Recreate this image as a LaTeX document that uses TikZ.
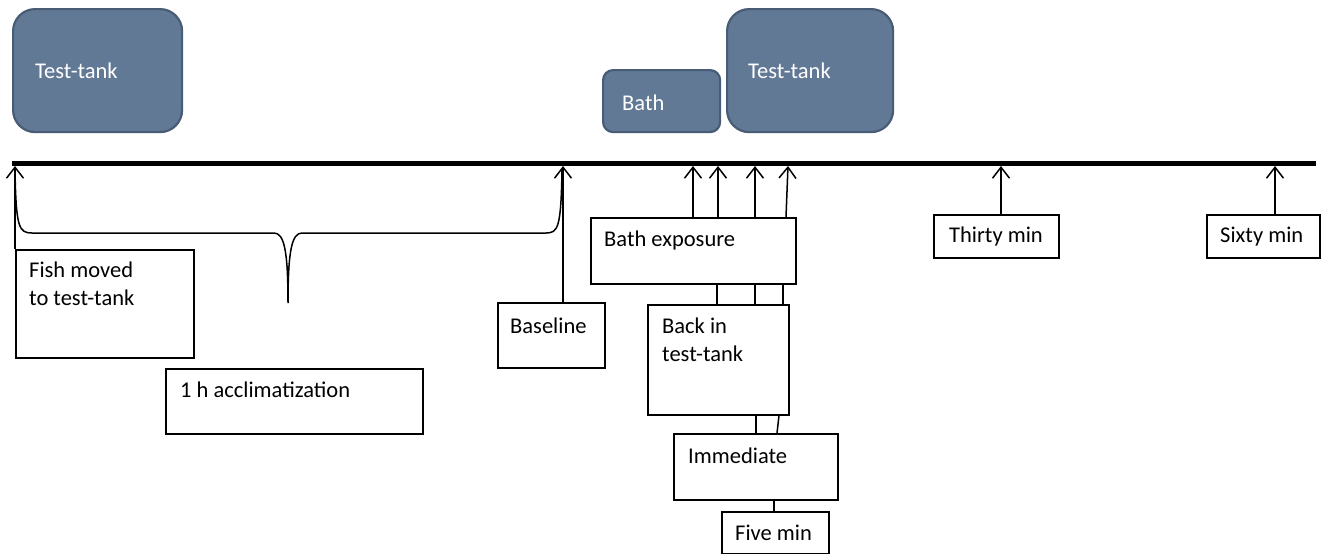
\documentclass[tikz,border=0pt]{standalone}
\usepackage{fontspec}
\setmainfont{Carlito}
\usetikzlibrary{arrows.meta}
\definecolor{tankfill}{RGB}{98,121,150}
\definecolor{tankdraw}{RGB}{72,92,118}
\tikzset{
  box/.style={draw=black, line width=1.5pt, fill=white, rectangle, inner sep=0pt, anchor=north west},
  tank/.style={draw=tankdraw, line width=2.2pt, fill=tankfill, rectangle, inner sep=0pt, anchor=north west},
  txt/.style={anchor=base west, inner sep=0pt, font=\fontsize{22.5}{28}\selectfont},
  wtxt/.style={txt, text=white},
  arr/.style={line width=1.5pt, -{Straight Barb[length=11pt,width=17pt,line width=1.5pt]}},
  conn/.style={line width=1.5pt},
}
\begin{document}
\begin{tikzpicture}[x=1pt,y=-1pt]
\useasboundingbox (0,0) rectangle (1325,554);
% tanks
\node[tank, rounded corners=22pt, minimum width=169pt, minimum height=123pt] (tankL) at (12,8) {};
\node[wtxt] (tankLt) at (35,78) {Test-tank};
\node[tank, rounded corners=10pt, minimum width=117pt, minimum height=62pt] (bath) at (602,69) {};
\node[wtxt] (batht) at (622,110) {Bath};
\node[tank, rounded corners=22pt, minimum width=166pt, minimum height=123pt] (tankR) at (726,8) {};
\node[wtxt] (tankRt) at (748,78) {Test-tank};
% timeline
\coordinate (tlA) at (12,163);
\coordinate (tlB) at (1316,163);
\draw[line width=5pt] (tlA) -- (tlB);
% boxes
\node[box, minimum width=178pt, minimum height=108pt] (fish) at (15,249) {};
\node[txt] (fisht1) at (29,277) {Fish moved};
\node[txt] (fisht2) at (29,305) {to test-tank};
\node[box, minimum width=257pt, minimum height=65pt] (accl) at (165,368) {};
\node[txt] (acclt) at (180,397) {1 h acclimatization};
\node[box, minimum width=107pt, minimum height=65pt] (base) at (497,302) {};
\node[txt] (baset) at (510,333) {Baseline};
\node[box, minimum width=205pt, minimum height=66pt] (bathexp) at (590,217) {};
\node[txt] (bathexpt) at (604,246) {Bath exposure};
\node[box, minimum width=141pt, minimum height=110pt] (back) at (647,304) {};
\node[txt] (backt1) at (662,333) {Back in};
\node[txt] (backt2) at (662,361) {test-tank};
\node[box, minimum width=164pt, minimum height=66pt] (imm) at (673,433) {};
\node[txt] (immt) at (688,463) {Immediate};
\node[box, minimum width=107pt, minimum height=42pt] (five) at (721,511) {};
\node[txt] (fivet) at (735,540) {Five min};
\node[box, minimum width=125pt, minimum height=43pt] (thirty) at (933,214) {};
\node[txt] (thirtyt) at (949,242) {Thirty min};
\node[box, minimum width=113pt, minimum height=43pt] (sixty) at (1206,214) {};
\node[txt] (sixtyt) at (1220,242) {Sixty min};
% timeline points
\coordinate (p0) at (15,166);
\coordinate (pb) at (563,166);
\coordinate (p1) at (693,166);
\coordinate (p2) at (718,166);
\coordinate (p3) at (755,166);
\coordinate (p4) at (788,166);
\coordinate (p30) at (1001,166);
\coordinate (p60) at (1275,166);
% arrows
\draw[arr] (fish.north west) -- (p0);
\draw[arr] (pb |- base.north) -- (pb);
\draw[arr] (p1 |- bathexp.north) -- (p1);
\draw[arr] (p2 |- bathexp.north) -- (p2);
\draw[arr] (p3 |- bathexp.north) -- (p3);
\draw[arr] ([xshift=-2pt]p4 |- bathexp.north) -- (p4);
\draw[arr] (p30 |- thirty.north) -- (p30);
\draw[arr] (p60 |- sixty.north) -- (p60);
% connecting lines
\draw[conn] (717,283 |- bathexp.south) -- (717,283 |- back.north);
\draw[conn] (755,283 |- bathexp.south) -- (755,283 |- back.north);
\draw[conn] (783,283 |- bathexp.south) -- (783,283 |- back.north);
\draw[conn] (756,0 |- back.south) -- (756,0 |- imm.north);
\draw[conn] (779,0 |- back.south) -- (777,0 |- imm.north);
\draw[conn] (774,0 |- imm.south) -- (774,0 |- five.north);
% brace
\draw[conn] (15,170) .. controls (16,228) and (19,233) .. (32,233) -- (274,233)
  .. controls (284,233) and (288,250) .. (288,303)
  .. controls (288,250) and (292,233) .. (302,233) -- (546,233)
  .. controls (558,233) and (561,228) .. (562,170);
\end{tikzpicture}
\end{document}
